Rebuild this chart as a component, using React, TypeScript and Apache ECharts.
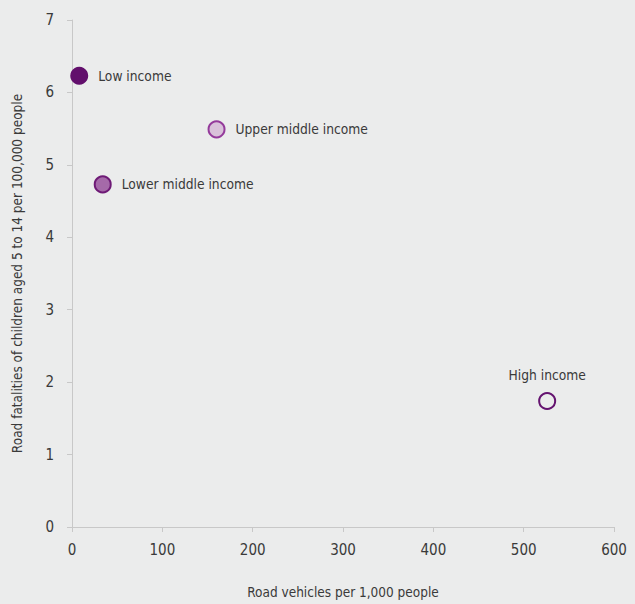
import React, { useEffect, useRef } from "react";
import * as echarts from "echarts";

const categories = ["Low income", "Lower middle income", "Upper middle income", "High income"];
const vehiclesPer1000 = [8, 34, 160, 526];
const fatalitiesPer100k = [6.23, 4.73, 5.49, 1.74];
const fillColors = ["#620f6c", "#a56aa9", "#d9c1da", "#ebecec"];
const borderColors = ["#620f6c", "#6e1a76", "#943a9b", "#651470"];
const labelPositions = ["right", "right", "right", "top"];

const FONT = "'DejaVu Sans Condensed', 'Liberation Sans Narrow', 'Roboto', sans-serif";
const TEXT = "#3a3a3a";

export default function App() {
  const ref = useRef<HTMLDivElement>(null);
  useEffect(() => {
    if (!ref.current) return;
    const chart = echarts.init(ref.current, null, { renderer: "svg" });
    const series = categories.map((name, i) => ({
      type: "scatter",
      name,
      data: [[vehiclesPer1000[i], fatalitiesPer100k[i]]],
      symbolSize: i === 0 ? 18 : 16,
      itemStyle: {
        color: fillColors[i],
        borderColor: borderColors[i],
        borderWidth: i === 0 ? 0 : 2,
        opacity: 1,
      },
      label: {
        show: true,
        formatter: name,
        position: labelPositions[i],
        distance: 10,
        color: TEXT,
        fontFamily: FONT,
        fontSize: 13.7,
      },
    }));
    chart.setOption({
      animation: false,
      backgroundColor: "#ebecec",
      textStyle: { fontFamily: FONT },
      grid: { left: 72, right: 21, top: 20, bottom: 77 },
      xAxis: {
        type: "value",
        min: 0,
        max: 600,
        interval: 100,
        name: "Road vehicles per 1,000 people",
        nameLocation: "middle",
        nameGap: 58,
        nameTextStyle: { color: TEXT, fontSize: 13.5, fontFamily: FONT },
        axisLine: { show: true, lineStyle: { color: "#c8c8c8", width: 1 } },
        axisTick: { show: true, length: 5, lineStyle: { color: "#c8c8c8" } },
        axisLabel: { color: TEXT, fontSize: 15, fontFamily: FONT, margin: 15 },
        splitLine: { show: false },
      },
      yAxis: {
        type: "value",
        min: 0,
        max: 7,
        interval: 1,
        name: "Road fatalities of children aged 5 to 14 per 100,000 people",
        nameLocation: "middle",
        nameGap: 48,
        nameTextStyle: { color: TEXT, fontSize: 13.5, fontFamily: FONT },
        axisLine: { show: true, lineStyle: { color: "#c8c8c8", width: 1 } },
        axisTick: { show: true, length: 5, lineStyle: { color: "#c8c8c8" } },
        axisLabel: { color: TEXT, fontSize: 15, fontFamily: FONT, margin: 18 },
        splitLine: { show: false },
      },
      series,
    });
    return () => chart.dispose();
  }, []);
  return (
    <div
      ref={ref}
      style={{ position: "absolute", left: 0, top: 0, width: 635, height: 604 }}
    />
  );
}
